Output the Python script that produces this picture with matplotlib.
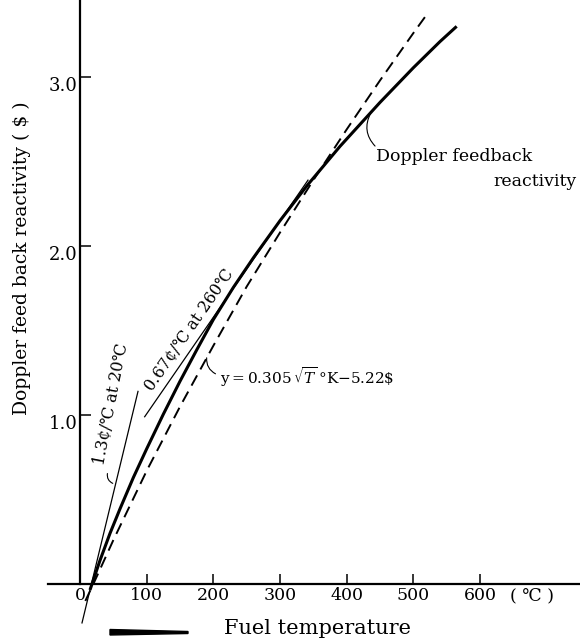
import matplotlib
matplotlib.use('Agg')
import matplotlib.pyplot as plt
from matplotlib.patches import Polygon
from matplotlib.transforms import ScaledTranslation

plt.rcParams['font.family'] = ['DejaVu Serif', 'DejaVu Sans', 'Noto Sans CJK JP']
plt.rcParams['mathtext.fontset'] = 'dejavuserif'

# Doppler feedback reactivity ($) against fuel temperature (C)
temp_doppler = [15, 18, 30, 45, 60, 80, 100, 125, 150, 175, 200, 230, 260,
                300, 340, 390, 450, 500, 540, 565]
react_doppler = [-0.035, 0.0, 0.14, 0.30, 0.445, 0.63, 0.80, 1.005, 1.20, 1.385, 1.565, 1.755, 1.93,
                 2.15, 2.355, 2.59, 2.85, 3.055, 3.21, 3.30]

# fitted sqrt(T) curve
temp_fit = [8, 20, 50, 100, 150, 200, 250, 300, 350, 400, 450, 500, 522]
react_fit = [-0.10, 0.00, 0.26, 0.67, 1.05, 1.41, 1.76, 2.08, 2.39, 2.69, 2.98, 3.26, 3.38]

# slope lines at 20 C and 260 C
temp_slope20 = [3, 87]
react_slope20 = [-0.23, 1.14]
temp_slope260 = [97, 342]
react_slope260 = [0.99, 2.39]

xticks = [0, 100, 200, 300, 400, 500, 600]
yticks = [1.0, 2.0, 3.0]
ytick_labels = ['1.0', '2.0', '3.0']

fig = plt.figure(figsize=(5.8, 6.41), dpi=100)
ax = fig.add_axes([0, 0, 1, 1])
ax.set_xlim(-120, 750)
ax.set_ylim(-0.337, 3.456)

for s in ['top', 'right']:
    ax.spines[s].set_visible(False)
ax.spines['left'].set_position(('data', 0))
ax.spines['bottom'].set_position(('data', 0))
ax.spines['left'].set_bounds(0, 3.456)
ax.spines['bottom'].set_bounds(-48, 750)
ax.spines['left'].set_linewidth(1.6)
ax.spines['bottom'].set_linewidth(1.6)

ax.set_xticks(xticks)
ax.set_xticklabels([str(t) for t in xticks])
ax.set_yticks(yticks)
ax.set_yticklabels(ytick_labels)
ax.tick_params(axis='x', direction='in', length=7, width=1.1, pad=2, labelsize=12.5)
ax.tick_params(axis='y', direction='in', length=8, width=1.1, pad=2, labelsize=13)
for lab in ax.get_yticklabels():
    lab.set_transform(lab.get_transform() + ScaledTranslation(0, -5 / 72, fig.dpi_scale_trans))

ax.plot(temp_doppler, react_doppler, color='black', lw=2.2, solid_capstyle='butt')
ax.plot(temp_fit, react_fit, color='black', lw=1.4, linestyle=(0, (6, 3.5)))
ax.plot(temp_slope20, react_slope20, color='black', lw=0.9)
ax.plot(temp_slope260, react_slope260, color='black', lw=0.9)

# labels on the slope lines
ax.text(36, 0.70, '1.3¢/℃ at 20℃', rotation=79, rotation_mode='anchor',
        ha='left', va='baseline', fontsize=11.5)
ax.text(108, 1.136, '0.67¢/℃ at 260℃', rotation=55.4, rotation_mode='anchor',
        ha='left', va='baseline', fontsize=11.5)
ax.annotate('', xy=(53, 0.59), xytext=(42, 0.67),
            arrowprops=dict(arrowstyle='-', connectionstyle='arc3,rad=0.5', lw=0.8))

# fitted curve label
ax.text(210, 1.225, r'y$=$0.305$\,\sqrt{T}\,$°K$-$5.22\$', ha='left', va='center', fontsize=11)
ax.annotate('', xy=(207, 1.237), xytext=(190.5, 1.355),
            arrowprops=dict(arrowstyle='-', connectionstyle='arc3,rad=0.4', lw=0.8))

# curve label
ax.text(444, 2.53, 'Doppler feedback', ha='left', va='center', fontsize=12.5)
ax.text(745, 2.38, 'reactivity', ha='right', va='center', fontsize=12.5)
ax.annotate('', xy=(445.5, 2.58), xytext=(438, 2.80),
            arrowprops=dict(arrowstyle='-', connectionstyle='arc3,rad=0.4', lw=0.8))

# axis titles
ax.text(678, -0.02, '( ℃ )', ha='center', va='top', fontsize=12.5)
fig.text(22 / 580, 1 - 258 / 641, 'Doppler feed back reactivity ( $ )', rotation=90,
         ha='center', va='center', fontsize=13.5)
fig.text(318 / 580, 1 - 628 / 641, 'Fuel temperature', ha='center', va='center', fontsize=15)

# tapered stroke before the x title
stroke = [(110, 629.5), (188, 631.5), (188, 633.5), (110, 635)]
fig.patches.append(Polygon([(px / 580, 1 - py / 641) for px, py in stroke],
                           closed=True, color='black', transform=fig.transFigure))

fig.savefig('out.png', dpi=100)
